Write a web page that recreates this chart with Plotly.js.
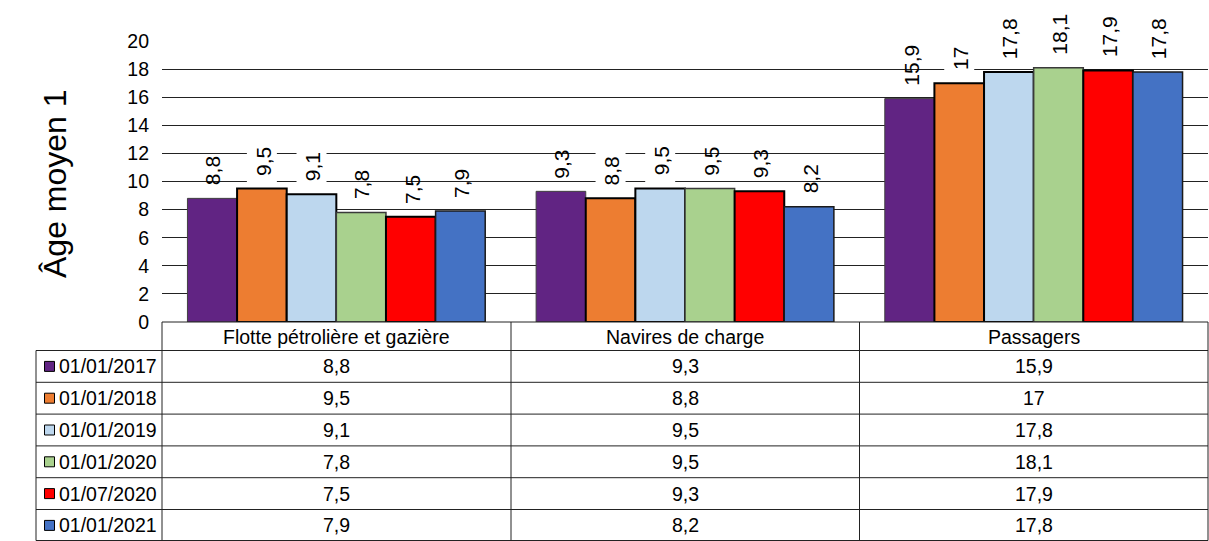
<!DOCTYPE html>
<html>
<head>
<meta charset="utf-8">
<script src="https://cdn.plot.ly/plotly-3.0.1.min.js"></script>
<style>html,body{margin:0;padding:0;background:#fff;}#chart{width:1209px;height:541px;}</style>
</head>
<body>
<div id="chart"></div>
<script>
// ---- data ----
const categories = ['Flotte pétrolière et gazière', 'Navires de charge', 'Passagers'];
const seriesNames = ['01/01/2017', '01/01/2018', '01/01/2019', '01/01/2020', '01/07/2020', '01/01/2021'];
const v20170101 = [8.8, 9.3, 15.9];
const v20180101 = [9.5, 8.8, 17];
const v20190101 = [9.1, 9.5, 17.8];
const v20200101 = [7.8, 9.5, 18.1];
const v20200701 = [7.5, 9.3, 17.9];
const v20210101 = [7.9, 8.2, 17.8];
const yTicks = [0, 2, 4, 6, 8, 10, 12, 14, 16, 18, 20];
const yTitle = 'Âge moyen 1';

// ---- styles ----
const seriesValues = [v20170101, v20180101, v20190101, v20200101, v20200701, v20210101];
const fillColors = ['#612483', '#ED7D31', '#BDD7EE', '#A9D18E', '#FF0000', '#4472C4'];
const lineColors = ['#404040', '#000000', '#000000', '#3a3a3a', '#000000', '#1a1a1a'];
const lineWidths = [1, 2, 2, 1.5, 2, 1.5];
const labelBoxed = [false, true, true, false, false, false];

const FONT = 'Liberation Sans, Arial, sans-serif';
const W = 1209, H = 541;
const M = {l: 162, r: 1, t: 41, b: 219};
const plotW = W - M.l - M.r, plotH = H - M.t - M.b;
const bargap = 0.146;
const yMin = 0, yMax = 20;
const pxPerUnit = plotH / (yMax - yMin);
const nS = seriesValues.length;
const barW = (1 - bargap) / nS; // in category units

function fmt(v) { return String(v).replace('.', ','); }
function px2x(px) { return (px - M.l) / plotW; }
function py2y(py) { return (M.t + plotH - py) / plotH; }

const traces = seriesValues.map((vals, s) => ({
  type: 'bar',
  name: seriesNames[s],
  x: categories,
  y: vals,
  marker: {color: fillColors[s], line: {color: lineColors[s], width: lineWidths[s]}},
  hoverinfo: 'none'
}));

const annotations = [];
const shapes = [];

// data labels
seriesValues.forEach((vals, s) => {
  vals.forEach((v, c) => {
    const xc = c + (s - (nS - 1) / 2) * barW;
    if (labelBoxed[s]) {
      const hw = 15 / (plotW / categories.length);
      shapes.push({type: 'rect', xref: 'x', yref: 'y', layer: 'above',
        x0: xc - hw, x1: xc + hw, y0: v + 3 / pxPerUnit, y1: v + 52 / pxPerUnit,
        fillcolor: '#ffffff', line: {width: 0}});
    }
    annotations.push({
      x: xc, y: v, xref: 'x', yref: 'y', text: fmt(v), showarrow: false,
      textangle: -90, xanchor: 'center', yanchor: 'bottom', yshift: 13, xshift: 1,
      borderpad: 0, borderwidth: 0,
      font: {family: FONT, size: 21, color: '#000'}
    });
  });
});

// y title
annotations.push({
  xref: 'paper', yref: 'paper', x: px2x(55), y: py2y(184), text: yTitle,
  showarrow: false, textangle: -90, xanchor: 'center', yanchor: 'middle',
  font: {family: FONT, size: 32, color: '#000'}
});

// ---- data table ----
const tblLeft = 36, colX = [162, 511, 859.5, 1208];
const headTop = 322, headBot = 350.5, rowH = 31.8;
const lineStyle = {color: '#222', width: 1};
function hline(y, x0, x1) {
  shapes.push({type: 'line', xref: 'paper', yref: 'paper', x0: px2x(x0), x1: px2x(x1), y0: py2y(y), y1: py2y(y), line: lineStyle});
}
function vline(x, y0, y1) {
  shapes.push({type: 'line', xref: 'paper', yref: 'paper', x0: px2x(x), x1: px2x(x), y0: py2y(y0), y1: py2y(y1), line: lineStyle});
}
const tblBottom = Math.min(headBot + nS * rowH, H - 0.5);
hline(headTop, colX[0], colX[3]);
for (let k = 0; k <= nS; k++) {
  hline(Math.min(headBot + k * rowH, H - 0.5), tblLeft, colX[3]);
}
vline(tblLeft, headBot, tblBottom);
colX.forEach(x => vline(x, headTop, tblBottom));

// header
categories.forEach((cat, c) => {
  annotations.push({xref: 'paper', yref: 'paper', x: px2x((colX[c] + colX[c + 1]) / 2), y: py2y((headTop + headBot) / 2 + 0.5),
    text: cat, showarrow: false, xanchor: 'center', yanchor: 'middle',
    font: {family: FONT, size: 19.5, color: '#000'}});
});
// rows
seriesValues.forEach((vals, s) => {
  const yc = headBot + (s + 0.5) * rowH;
  shapes.push({type: 'rect', xref: 'paper', yref: 'paper',
    x0: px2x(44.5), x1: px2x(54.5), y0: py2y(yc - 5), y1: py2y(yc + 5),
    fillcolor: fillColors[s], line: {color: '#000', width: 1}});
  annotations.push({xref: 'paper', yref: 'paper', x: px2x(57), y: py2y(yc), text: seriesNames[s],
    showarrow: false, xanchor: 'left', yanchor: 'middle',
    font: {family: FONT, size: 19.5, color: '#000'}});
  vals.forEach((v, c) => {
    annotations.push({xref: 'paper', yref: 'paper', x: px2x((colX[c] + colX[c + 1]) / 2), y: py2y(yc), text: fmt(v),
      showarrow: false, xanchor: 'center', yanchor: 'middle',
      font: {family: FONT, size: 19.5, color: '#000'}});
  });
});

const layout = {
  width: W, height: H, margin: M,
  paper_bgcolor: '#fff', plot_bgcolor: '#fff',
  barmode: 'group', bargap: bargap, bargroupgap: 0,
  showlegend: false,
  xaxis: {type: 'category', range: [-0.5, categories.length - 0.5], showticklabels: false, showgrid: false,
    zeroline: false, showline: false, ticks: ''},
  yaxis: {range: [yMin, yMax], tickmode: 'array', tickvals: yTicks, ticktext: yTicks.map(String),
    showgrid: true, gridcolor: '#222', gridwidth: 1, zeroline: false, showline: false, ticks: '',
    ticklabelstandoff: 12, tickfont: {family: FONT, size: 19.5, color: '#000'}},
  annotations: annotations,
  shapes: shapes,
  font: {family: FONT, color: '#000'}
};

Plotly.newPlot('chart', traces, layout, {displayModeBar: false, staticPlot: true});
</script>
</body>
</html>
